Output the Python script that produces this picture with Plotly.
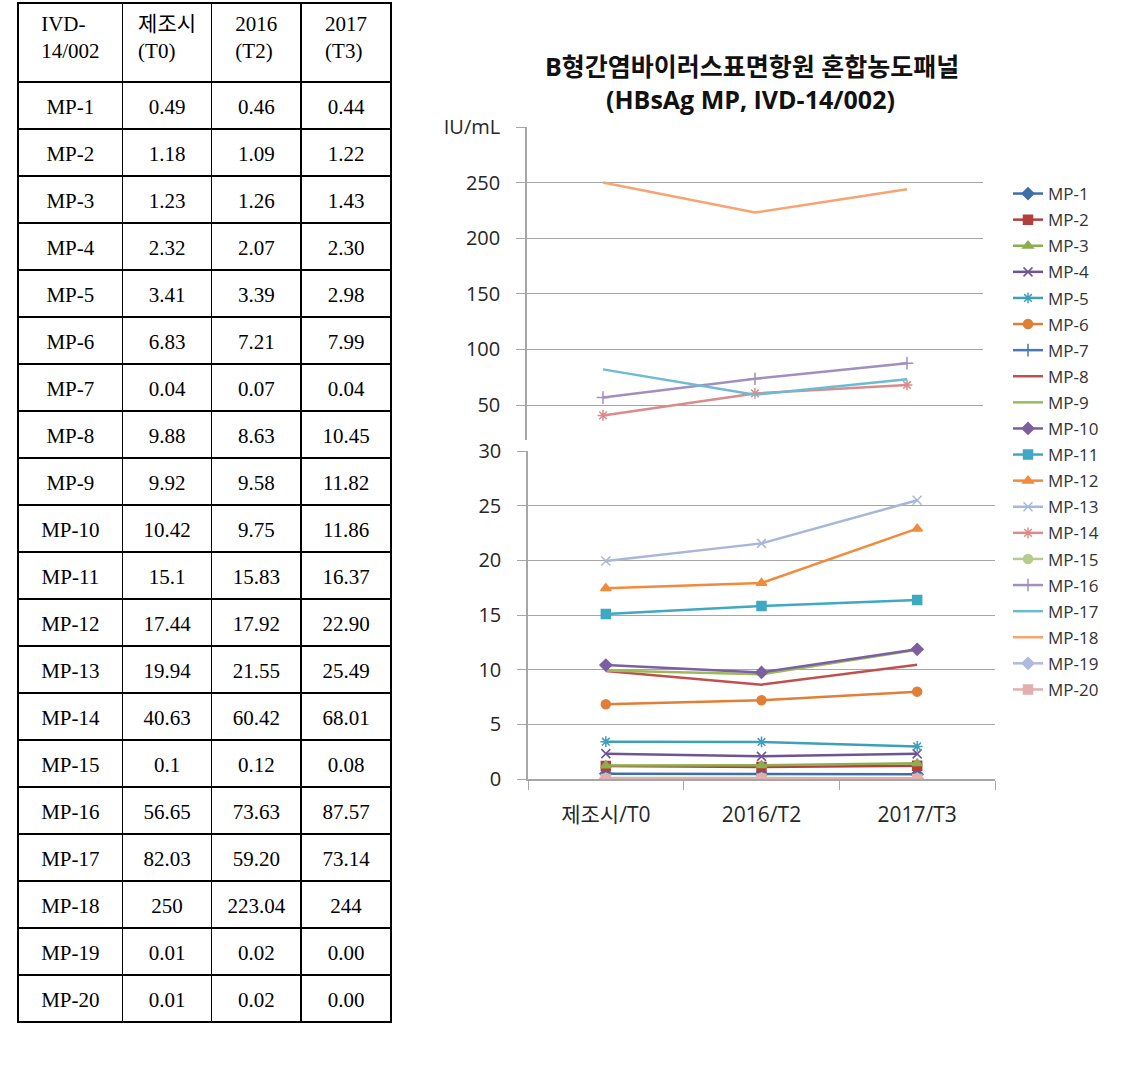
import plotly.graph_objects as go

# ---------------- data ----------------
header = ["IVD-<br>14/002", "제조시<br>(T0)", "2016<br>(T2)", "2017<br>(T3)"]
categories = ["제조시/T0", "2016/T2", "2017/T3"]
panels = ["MP-1", "MP-2", "MP-3", "MP-4", "MP-5", "MP-6", "MP-7", "MP-8", "MP-9", "MP-10",
          "MP-11", "MP-12", "MP-13", "MP-14", "MP-15", "MP-16", "MP-17", "MP-18", "MP-19", "MP-20"]
t0_text = ["0.49", "1.18", "1.23", "2.32", "3.41", "6.83", "0.04", "9.88", "9.92", "10.42",
           "15.1", "17.44", "19.94", "40.63", "0.1", "56.65", "82.03", "250", "0.01", "0.01"]
t2_text = ["0.46", "1.09", "1.26", "2.07", "3.39", "7.21", "0.07", "8.63", "9.58", "9.75",
           "15.83", "17.92", "21.55", "60.42", "0.12", "73.63", "59.20", "223.04", "0.02", "0.02"]
t3_text = ["0.44", "1.22", "1.43", "2.30", "2.98", "7.99", "0.04", "10.45", "11.82", "11.86",
           "16.37", "22.90", "25.49", "68.01", "0.08", "87.57", "73.14", "244", "0.00", "0.00"]

upper_ticks = [50, 100, 150, 200, 250, 300]
upper_ticktext = ["50", "100", "150", "200", "250", "IU/mL"]
lower_ticks = [0, 5, 10, 15, 20, 25, 30]
break_value = 30

# ---------------- styles ----------------
colors = ["#3F6FA8", "#B33F3C", "#8DAE4E", "#6E5494", "#3E9FB8", "#E07F35", "#4A78B0",
          "#C0504D", "#9BBB59", "#7B5FA0", "#3FA8C2", "#F28A3E", "#A8B6D8", "#D98C8A",
          "#B5CC8E", "#A08FC0", "#6DBBD3", "#F7A472", "#AEBBE0", "#E2AFAE"]
symbols = ["diamond", "square", "triangle-up", "x-thin-open", "asterisk-open", "circle",
           "cross-thin-open", None, None, "diamond", "square", "triangle-up", "x-thin-open",
           "asterisk-open", "circle", "cross-thin-open", None, None, "diamond", "square"]

W, H = 1135, 1087
def px_x(v):
    return v / W
def px_y(v):
    return 1 - v / H

serif = "Liberation Serif, Noto Sans CJK KR, serif"
sans = "Open Sans, Noto Sans CJK KR, sans-serif"

fig = go.Figure()

# table
fig.add_trace(go.Table(
    domain=dict(x=[px_x(18), px_x(392)], y=[0, px_y(3)]),
    columnwidth=[105, 89, 90, 90],
    header=dict(values=header, height=79, align="center",
                line=dict(color="black", width=1.5), fill=dict(color="white"),
                font=dict(family=serif, size=21, color="black")),
    cells=dict(values=[panels, t0_text, t2_text, t3_text], height=47, align="center",
               line=dict(color="black", width=1.5), fill=dict(color="white"),
               font=dict(family=serif, size=21, color="black")),
))

# lines
for i, name in enumerate(panels):
    vals = [float(t0_text[i]), float(t2_text[i]), float(t3_text[i])]
    upper = max(vals) > break_value
    sym = symbols[i]
    mode = "lines+markers" if sym else "lines"
    fig.add_trace(go.Scatter(
        x=categories, y=vals, name=name, mode=mode,
        xaxis="x2" if upper else "x", yaxis="y2" if upper else "y",
        legendgroup=name,
        line=dict(color=colors[i], width=2.5),
        marker=dict(symbol=sym or "circle", size=9, color=colors[i],
                    line=dict(color=colors[i], width=1.5)),
    ))

grid = "#a6a6a6"
tickfont = dict(family=sans, size=20, color="#262626")

fig.update_layout(
    width=W, height=H, margin=dict(l=0, r=0, t=0, b=0, autoexpand=False),
    paper_bgcolor="white", plot_bgcolor="white",
    showlegend=True,
    legend=dict(x=px_x(1008), y=px_y(176), xanchor="left", yanchor="top",
                font=dict(family=sans, size=17, color="#333333"),
                tracegroupgap=1, itemwidth=30, bgcolor="rgba(0,0,0,0)"),
    xaxis=dict(domain=[px_x(528), px_x(995)], type="category", range=[-0.5, 2.5],
               showline=True, linecolor=grid, linewidth=1.5, ticks="outside",
               tickson="boundaries", ticklen=9, tickcolor=grid, showgrid=False,
               ticklabelstandoff=16, automargin=False,
               tickfont=dict(family=sans, size=21, color="#262626"), anchor="y"),
    yaxis=dict(domain=[px_y(779), px_y(451)], range=[0, 30], tickvals=lower_ticks,
               showline=True, linecolor=grid, linewidth=1.5, ticks="outside", ticklen=9,
               tickcolor=grid, gridcolor=grid, zeroline=False, tickfont=tickfont,
               ticklabelstandoff=12, automargin=False, anchor="x"),
    xaxis2=dict(domain=[px_x(527), px_x(983)], type="category", range=[-0.5, 2.5],
                showticklabels=False, showline=False, showgrid=False, ticks="",
                automargin=False, anchor="y2"),
    yaxis2=dict(domain=[px_y(440), px_y(127)], range=[50 - 35 * 250 / 278, 300],
                tickvals=upper_ticks, ticktext=upper_ticktext,
                showline=True, linecolor=grid, linewidth=1.5, ticks="outside", ticklen=9,
                tickcolor=grid, gridcolor=grid, zeroline=False, tickfont=tickfont,
                ticklabelstandoff=12, automargin=False, anchor="x2"),
)

fig.add_annotation(text="<b>B형간염바이러스표면항원 혼합농도패널</b>", xref="paper", yref="paper",
                   x=px_x(752), y=px_y(66), xanchor="center", yanchor="middle", showarrow=False,
                   font=dict(family=sans, size=25, color="#111111"))
fig.add_annotation(text="<b>(HBsAg MP, IVD-14/002)</b>", xref="paper", yref="paper",
                   x=px_x(750), y=px_y(99), xanchor="center", yanchor="middle", showarrow=False,
                   font=dict(family=sans, size=25, color="#111111"))

post = """
document.body.style.margin = '0';
var gd = document.getElementById('{plot_id}');
function shiftTableText() {
  gd.querySelectorAll('.column-block').forEach(function (b) {
    var dy = (b.id === 'header') ? 1 : 8;
    var tag = ' translate(0,' + dy + ')';
    b.querySelectorAll('.cell-text').forEach(function (t) {
      var tr = t.getAttribute('transform') || '';
      if (!tr.endsWith(tag)) { t.setAttribute('transform', tr + tag); }
    });
  });
}
shiftTableText();
setTimeout(shiftTableText, 200);
setTimeout(shiftTableText, 800);
"""
fig.write_html("out.html", post_script=post, config={"displayModeBar": False})
